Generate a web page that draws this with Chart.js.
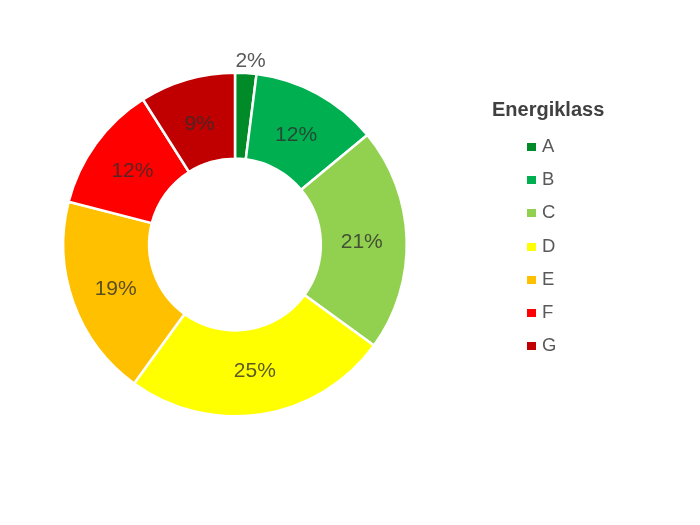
<!DOCTYPE html>
<html>
<head>
<meta charset="utf-8">
<script src="https://cdn.jsdelivr.net/npm/chart.js@4/dist/chart.umd.min.js"></script>
<style>
  html, body { margin: 0; padding: 0; background: #fff; }
  #wrap { position: relative; width: 700px; height: 525px; }
  #c { position: absolute; left: 0; top: 0; }
  #legend { position: absolute; left: 0; top: 0; width: 700px; height: 525px; pointer-events: none;
            font-family: "Liberation Sans", Arial, sans-serif; }
  .ttl { position: absolute; left: 492px; top: 98px; font-size: 20px; font-weight: bold; color: #404040; }
  .item { position: absolute; left: 527px; height: 20px; font-size: 18.5px; color: #595959; }
  .sw { position: absolute; left: 0; top: 6px; width: 9px; height: 8px; }
  .lbl { position: absolute; left: 15px; top: -1px; line-height: 20px; }
</style>
</head>
<body>
<div id="wrap">
  <canvas id="c" width="700" height="525"></canvas>
  <div id="legend"></div>
</div>
<script>
const legendTitle = "Energiklass";
const categories = ["A", "B", "C", "D", "E", "F", "G"];
const values = [2, 12, 21, 25, 19, 12, 9];
const colors = ["#008a28", "#00b050", "#92d050", "#ffff00", "#ffc000", "#ff0000", "#c00000"];

// HTML legend
const lg = document.getElementById('legend');
const t = document.createElement('div');
t.className = 'ttl'; t.textContent = legendTitle; lg.appendChild(t);
categories.forEach((c, i) => {
  const d = document.createElement('div');
  d.className = 'item';
  d.style.top = (137 + i * 33.2) + 'px';
  d.innerHTML = '<div class="sw" style="background:' + colors[i] + '"></div><div class="lbl">' + c + '</div>';
  lg.appendChild(d);
});

const labelPlugin = {
  id: 'sliceLabels',
  afterDatasetsDraw(chart) {
    const ctx = chart.ctx;
    const meta = chart.getDatasetMeta(0);
    const total = values.reduce((a, b) => a + b, 0);
    ctx.save();
    ctx.font = '21px "Liberation Sans", Arial, sans-serif';
    ctx.textAlign = 'center';
    ctx.textBaseline = 'middle';
    meta.data.forEach((arc, i) => {
      const p = arc.getProps(['x', 'y', 'startAngle', 'endAngle', 'innerRadius', 'outerRadius'], true);
      const mid = (p.startAngle + p.endAngle) / 2;
      const pct = Math.round(values[i] / total * 100);
      const outside = pct < 5;
      const r = outside ? p.outerRadius + 13 : (p.innerRadius + p.outerRadius) / 2 - 2;
      const x = p.x + Math.cos(mid) * r;
      const y = p.y + Math.sin(mid) * r;
      ctx.fillStyle = outside ? '#595959' : 'rgba(45,45,45,0.78)';
      ctx.fillText(pct + '%', x + (outside ? 4 : 0), y + 1.5);
    });
    ctx.restore();
  }
};

new Chart(document.getElementById('c'), {
  type: 'doughnut',
  data: {
    labels: categories,
    datasets: [{
      data: values,
      backgroundColor: colors,
      borderColor: '#ffffff',
      borderWidth: 2.5
    }]
  },
  options: {
    responsive: false,
    animation: false,
    cutout: '50%',
    layout: { padding: { left: 62, top: 71, right: 292, bottom: 107 } },
    plugins: {
      legend: { display: false },
      tooltip: { enabled: false }
    }
  },
  plugins: [labelPlugin]
});
</script>
</body>
</html>
